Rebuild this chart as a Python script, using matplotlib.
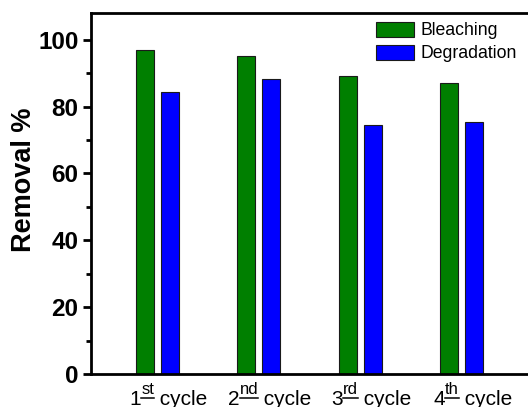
import numpy as np
import matplotlib
matplotlib.use("Agg")
import matplotlib.pyplot as plt
from matplotlib.lines import Line2D

plt.rcParams['font.family'] = ['Liberation Sans', 'DejaVu Sans']

# removal efficiency (%) over four reuse cycles
cycle_nums = ['1', '2', '3', '4']
cycle_sups = ['st', 'nd', 'rd', 'th']
bleaching = [97.0, 95.0, 89.3, 87.1]
degradation = [84.5, 88.2, 74.6, 75.4]

W, H = 528, 407
fig = plt.figure(figsize=(W / 100, H / 100), dpi=100)
ax = fig.add_axes([91 / W, 33 / H, 1.01 - 91 / W, 361 / H])

x = np.arange(1, len(bleaching) + 1)
bw = 0.178
off = 0.123
ax.bar(x - off, bleaching, bw, color='#007F00', edgecolor='#1a1a1a',
       linewidth=0.8, label='Bleaching')
ax.bar(x + off, degradation, bw, color='#0000FF', edgecolor='#1a1a1a',
       linewidth=0.8, label='Degradation')

ax.set_xlim(0.344, 4.656 + 0.05)
ax.set_ylim(0, 108)
ax.set_yticks([0, 20, 40, 60, 80, 100])
ax.set_yticks([10, 30, 50, 70, 90], minor=True)
ax.set_xticks([])
ax.tick_params(axis='y', which='major', direction='out', length=6, width=2,
               labelsize=17.5, pad=3)
ax.tick_params(axis='y', which='minor', direction='out', length=3.5, width=2)
for lbl in ax.get_yticklabels():
    lbl.set_fontweight('bold')
for s in ax.spines.values():
    s.set_linewidth(2)
ax.spines['right'].set_visible(False)

fig.text(24 / W, 1 - 180 / H, 'Removal %', rotation=90, fontsize=19.5,
         fontweight='bold', ha='center', va='center')

ax.legend(loc='upper left', bbox_to_anchor=(377 / W - 0.002, 1 - 22 / H),
          bbox_transform=fig.transFigure, frameon=False, fontsize=12.7,
          handlelength=2.16, handleheight=0.9, labelspacing=0.32,
          handletextpad=0.34, borderpad=0, borderaxespad=0)

# x labels with underlined superscripts, drawn piece by piece
fig.canvas.draw()
r = fig.canvas.get_renderer()
for xi, num, sup in zip(x, cycle_nums, cycle_sups):
    cx = ax.transData.transform((xi, 0))[0] + 11
    t1 = fig.text(0, 0, num, fontsize=15)
    t2 = fig.text(0, 0, sup, fontsize=12)
    t3 = fig.text(0, 0, ' cycle', fontsize=15)
    w1 = t1.get_window_extent(r).width
    w2 = t2.get_window_extent(r).width
    w3 = t3.get_window_extent(r).width
    x0 = cx - (w1 + w2 + w3) / 2
    base = H - 405
    t1.set_position((x0 / W, base / H))
    t2.set_position(((x0 + w1) / W, (base + 11) / H))
    t3.set_position(((x0 + w1 + w2) / W, base / H))
    fig.add_artist(Line2D([(x0 + w1) / W, (x0 + w1 + w2) / W],
                          [(base + 7.5) / H, (base + 7.5) / H],
                          transform=fig.transFigure, color='black', lw=1.1))

fig.savefig('out.png', dpi=100)
